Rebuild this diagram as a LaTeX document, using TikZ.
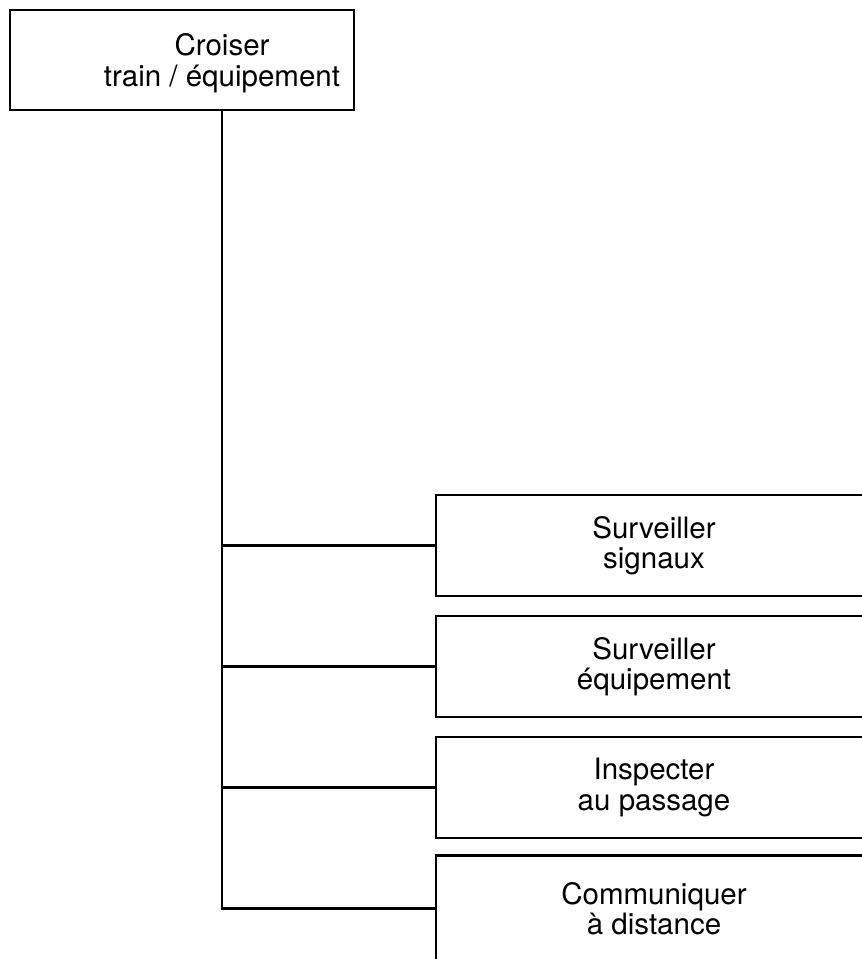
\documentclass[tikz,border=0pt]{standalone}
\usepackage{fontspec}
\setmainfont{TeX Gyre Heros}
\usetikzlibrary{positioning}
\tikzset{
arbre/.style={
    x=1pt,
    y=-1pt,
    line width=2.6pt,
    node distance=121pt,
    font=\fontsize{29.5}{30.5}\selectfont
},
racine/.style={
    draw,
    rectangle,
    minimum width=344pt,
    minimum height=100pt,
    inner sep=0pt
},
tache/.style={
    draw,
    rectangle,
    align=center,
    minimum width=436pt,
    minimum height=101pt,
    inner sep=0pt
},
titre/.style={
    align=center,
    inner sep=0pt
},
branche/.style={
    -
}}

\begin{document}
\begin{tikzpicture}[arbre]
\useasboundingbox (0,0) rectangle (862,959);
\clip (0,0) rectangle (862,959);

\node[racine]   (croiser)    at (182,60)    {};
\node[titre]    (titre)      at (222,63)    {Croiser\\train / équipement};

\node[tache]    (c1)    at (654,545.5)    {Surveiller\\signaux};
\node[tache]    (c2)    [below of=c1]    {Surveiller\\équipement};
\node[tache]    (c3)    [below of=c2]    {Inspecter\\au passage};
\node[tache, minimum height=106pt]    (c4)    [below of=c3]    {Communiquer\\à distance};

\draw    (titre |- croiser.south) -- (titre |- c4) -- (c4.west);
\path    (titre |- c1)    edge[branche]    (c1.west);
\path    (titre |- c2)    edge[branche]    (c2.west);
\path    (titre |- c3)    edge[branche]    (c3.west);
\end{tikzpicture}
\end{document}
